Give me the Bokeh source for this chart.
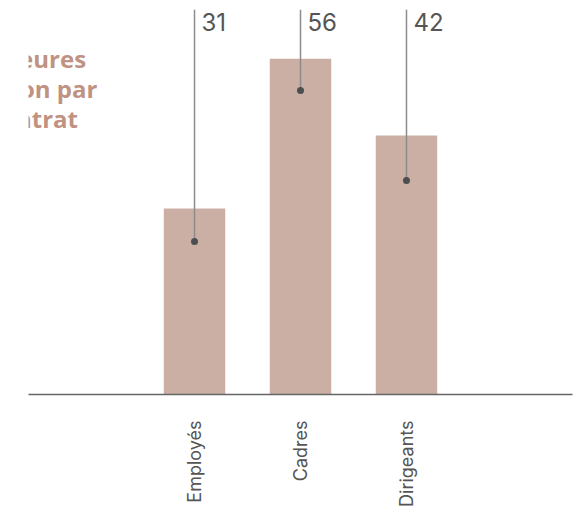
import math
from bokeh.plotting import figure
from bokeh.models import FactorRange, Range1d, Label, ColumnDataSource
from bokeh.core.properties import value
from bokeh.embed import file_html
from bokeh.resources import INLINE

# ---- data ----
categories = ["Employés", "Cadres", "Dirigeants"]
bar_values = [31, 56, 43.2]
marker_values = [25.5, 50.7, 35.7]
value_labels = ["31", "56", "42"]
title_lines = ["Le nombre", "moyen d'heures", "de formation par", "type de contrat"]

Y_MAX = 64.2

src = ColumnDataSource(dict(
    cat=categories,
    bar=bar_values,
    marker=marker_values,
    label=value_labels,
    top=[Y_MAX] * len(categories),
))

p = figure(
    width=576, height=510,
    x_range=FactorRange(factors=categories, range_padding=0.711,
                        range_padding_units="percent"),
    y_range=Range1d(0, Y_MAX),
    y_axis_location=None,
    output_backend="svg", toolbar_location=None,
    min_border_left=28, min_border_right=4, min_border_top=9,
    min_border_bottom=116,
)

p.vbar(x="cat", top="bar", width=0.58, source=src,
       fill_color="#cbafa5", line_color=None)
p.segment(x0="cat", y0="marker", x1="cat", y1="top", source=src,
          line_color="#8c8c8c", line_width=1.5)
p.scatter(x="cat", y="marker", size=7, source=src,
          fill_color="#4b4f4f", line_color=None)
p.text(x="cat", y="top", text="label", source=src,
       x_offset=7, y_offset=12,
       text_font=value("Inter"), text_font_size="24px",
       text_color="#555555", text_baseline="alphabetic", text_align="left")

p.grid.visible = False
p.outline_line_color = None

ax = p.xaxis[0]
ax.axis_line_color = "#666666"
ax.axis_line_width = 1.5
ax.major_tick_line_color = None
ax.minor_tick_line_color = None
ax.major_label_orientation = math.pi / 2
ax.major_label_standoff = 20
ax.major_label_text_font = "Inter"
ax.major_label_text_font_size = "18px"
ax.major_label_text_color = "#555555"

# title block: left-aligned, partly outside the canvas on the left (as in the reference)
for i, line in enumerate(title_lines):
    p.add_layout(Label(
        x=-135, y=366 - 30 * i, x_units="screen", y_units="screen",
        text=line, text_align="left", text_baseline="alphabetic",
        text_font="Open Sans", text_font_style="bold",
        text_font_size="24px", text_color="#c09282",
    ))

open("out.html", "w").write(file_html(p, INLINE))
